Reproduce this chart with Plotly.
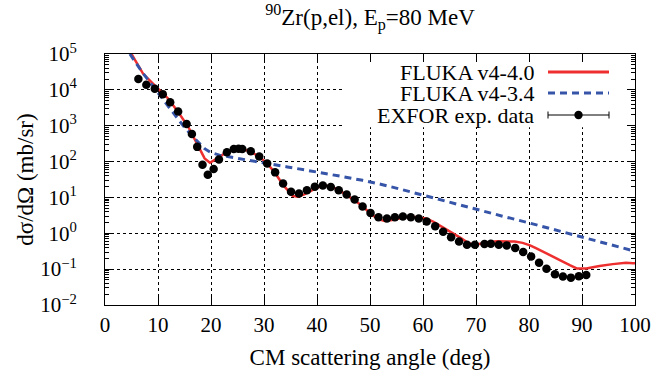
import plotly.graph_objects as go

# ---- data ----
exp_angle = [6.3, 7.8, 9.4, 10.9, 12.3, 13.8, 15.4, 16.4, 17.4, 18.4, 19.4, 20.5, 21.5, 23.0,
             24.3, 25.2, 25.9, 27.5, 29.1, 30.6, 32.1, 33.6, 35.1, 36.6, 38.1, 39.6, 41.1,
             42.6, 44.1, 45.6, 47.1, 48.6, 50.1, 51.6, 53.2, 54.7, 56.2, 57.7, 59.2, 60.7,
             62.3, 63.8, 65.3, 66.8, 68.3, 69.8, 71.6, 72.8, 74.3, 75.8, 77.4, 78.9, 80.4,
             81.9, 83.3, 84.9, 86.4, 87.9, 89.4, 90.8]
exp_xs = [2.0e4, 1.38e4, 1.07e4, 7.6e3, 4.5e3, 2.5e3, 1.12e3, 590, 257, 81, 43, 62, 115, 182,
          224, 229, 224, 195, 138, 89, 50, 24.5, 14.5, 12.9, 15.8, 20, 21.4,
          19.5, 15.8, 12.0, 8.7, 5.6, 3.7, 2.8, 2.6, 2.8, 2.95, 2.8, 2.57, 2.14,
          1.58, 1.10, 0.78, 0.59, 0.48, 0.48, 0.50, 0.51, 0.48, 0.46, 0.39, 0.30, 0.224,
          0.151, 0.102, 0.072, 0.062, 0.058, 0.063, 0.069]

v440_angle = [5.0, 7.2, 9.7, 11.9, 13.8, 15.7, 17.5, 18.8, 19.8, 20.7, 21.6, 23.0, 25.0, 27.0,
              29.0, 30.6, 32.1, 33.6, 35.4, 36.3, 37.5, 38.6, 40.0, 41.1, 42.6, 44.2, 45.6,
              47.1, 48.7, 50.1, 51.5, 52.8, 54.5, 56.2, 58.0, 59.5, 60.6, 62.0, 63.2, 64.5,
              65.7, 67.0, 68.2, 69.2, 70.1, 71.3, 72.6, 74.0, 75.7, 77.3, 78.8, 80.2, 81.4,
              83.0, 84.5, 86.0, 87.7, 89.0, 90.8, 92.0, 93.3, 95.8, 98.3, 99.6, 100.0]
v440_xs = [1.0e5, 2.8e4, 1.2e4, 5.75e3, 2.4e3, 933, 288, 123, 93, 110, 135, 186, 224, 204,
           141, 89, 48, 22.4, 11.0, 10.5, 12.0, 14.5, 18.6, 21.4, 20.4, 15.8, 11.7,
           8.3, 5.5, 3.55, 2.5, 2.19, 2.4, 2.75, 2.88, 2.75, 2.57, 2.09, 1.66, 1.26,
           1.0, 0.76, 0.575, 0.50, 0.49, 0.54, 0.575, 0.60, 0.60, 0.59, 0.54, 0.46, 0.38,
           0.295, 0.23, 0.174, 0.129, 0.105, 0.105, 0.115, 0.123, 0.138, 0.151, 0.145, 0.145]

v434_angle = [4.7, 6.9, 8.8, 10.6, 12.5, 14.7, 16.8, 18.8, 20.0, 21.6, 25.0, 27.9, 31.0, 34.4,
              38.0, 41.0, 44.0, 48.6, 52.0, 56.0, 60.0, 65.0, 70.1, 75.0, 80.0, 85.0, 89.9,
              95.0, 100.0]
v434_xs = [1.0e5, 3.3e4, 1.41e4, 6.3e3, 2.7e3, 1.02e3, 457, 229, 178, 151, 123, 105, 87, 71,
           57.5, 49, 40, 30, 23.4, 16.6, 11.5, 7.4, 4.7, 3.0, 1.95, 1.23, 0.78,
           0.50, 0.316]

x_ticks = [0, 10, 20, 30, 40, 50, 60, 70, 80, 90, 100]
y_ticks = [1e-2, 1e-1, 1e0, 1e1, 1e2, 1e3, 1e4, 1e5]
y_ticktext = ["10<sup>−2</sup>", "10<sup>−1</sup>", "10<sup>0</sup>", "10<sup>1</sup>",
              "10<sup>2</sup>", "10<sup>3</sup>", "10<sup>4</sup>", "10<sup>5</sup>"]
y_minor_ticks = [m * d for d in y_ticks[:-1] for m in range(2, 10)]
legend_labels = ["FLUKA v4-4.0", "FLUKA v4-3.4", "EXFOR exp. data"]

RED = "#ee2f2f"
BLUE = "#3655a8"
FONT = "'Liberation Serif', 'DejaVu Serif', serif"
FS = 21
FS_TEXT = 23
FS_LEG = 22

fig = go.Figure()
fig.add_trace(go.Scatter(x=v440_angle, y=v440_xs, mode="lines",
                         line=dict(color=RED, width=2.5), name=legend_labels[0]))
fig.add_trace(go.Scatter(x=v434_angle, y=v434_xs, mode="lines",
                         line=dict(color=BLUE, width=3, dash="7px,5px"), name=legend_labels[1]))
fig.add_trace(go.Scatter(x=exp_angle, y=exp_xs, mode="markers",
                         marker=dict(color="black", size=8.5), name=legend_labels[2]))
# empty trace that carries the minor-tick axis
fig.add_trace(go.Scatter(x=[], y=[], yaxis="y2", showlegend=False, hoverinfo="skip"))

axis_common = dict(showline=True, linecolor="black", linewidth=1, mirror="ticks",
                   ticks="inside", tickcolor="black", ticklen=8, tickwidth=1,
                   showgrid=True, gridcolor="black", gridwidth=1, griddash="dot",
                   zeroline=False, automargin=False,
                   tickfont=dict(family=FONT, size=FS, color="black"))

fig.update_layout(
    xaxis=dict(range=[0, 100], tickvals=x_ticks, ticklabelstandoff=1,
               title=dict(text="CM scattering angle (deg)", standoff=12,
                          font=dict(family=FONT, size=FS_TEXT, color="black")),
               **axis_common),
    yaxis=dict(type="log", range=[-2, 5], tickvals=y_ticks, ticktext=y_ticktext,
               ticklabelstandoff=23,
               title=dict(text="dσ/dΩ (mb/sr)", standoff=0,
                          font=dict(family=FONT, size=FS_TEXT, color="black")),
               **axis_common),
    yaxis2=dict(type="log", range=[-2, 5], overlaying="y", side="left", anchor="x",
                tickvals=y_minor_ticks, ticks="inside", ticklen=4, tickcolor="black",
                showticklabels=False, showgrid=False, zeroline=False, showline=False,
                mirror="ticks", automargin=False),
)

# ---- custom legend (text on the left, sample on the right) ----
px_w, px_h = 530, 251
def px(xp):
    return (xp - 105) / px_w
def py(yp):
    return (305 - yp) / px_h

# white legend background, between the grid and the traces (data coordinates)
shapes = [dict(type="rect", xref="x", yref="y", x0=45.0, x1=98.9, y0=900, y1=1.0e5,
               fillcolor="white", line=dict(width=0), layer="between")]
rows = [72, 93, 115]
for lab, yy in zip(legend_labels, rows):
    fig.add_annotation(text=lab, xref="paper", yref="paper", x=px(536), y=py(yy),
                       xanchor="right", yanchor="middle", showarrow=False,
                       font=dict(family=FONT, size=FS_LEG, color="black"))
shapes.append(dict(type="line", xref="paper", yref="paper", x0=px(548), x1=px(609),
                   y0=py(rows[0]), y1=py(rows[0]), line=dict(color=RED, width=3), layer="above"))
shapes.append(dict(type="line", xref="paper", yref="paper", x0=px(548), x1=px(609),
                   y0=py(rows[1]), y1=py(rows[1]),
                   line=dict(color=BLUE, width=3, dash="7px,5px"), layer="above"))
shapes.append(dict(type="line", xref="paper", yref="paper", x0=px(548), x1=px(609),
                   y0=py(rows[2]), y1=py(rows[2]), line=dict(color="black", width=1), layer="above"))
for xe in (548, 609):
    shapes.append(dict(type="line", xref="paper", yref="paper", x0=px(xe), x1=px(xe),
                       y0=py(rows[2] - 3.5), y1=py(rows[2] + 3.5),
                       line=dict(color="black", width=1), layer="above"))
shapes.append(dict(type="circle", xref="paper", yref="paper", xsizemode="pixel", ysizemode="pixel",
                   xanchor=px(578.5), yanchor=py(rows[2]), x0=-4.2, x1=4.2, y0=-4.2, y1=4.2,
                   fillcolor="black", line=dict(color="black", width=0), layer="above"))

fig.update_layout(
    width=654, height=370,
    margin=dict(l=105, r=19, t=54, b=65, autoexpand=False),
    paper_bgcolor="white", plot_bgcolor="white",
    showlegend=False,
    shapes=shapes,
    font=dict(family=FONT, size=FS, color="black"),
    title=dict(text="<sup>90</sup>Zr(p,el), E<sub>p</sub>=80 MeV", xref="paper", x=0.5,
               xanchor="center", yref="container", y=1 - 17 / 370, yanchor="middle",
               font=dict(family=FONT, size=FS_TEXT, color="black")),
)

fig.write_html("out.html", config={"displayModeBar": False},
               post_script="document.body.style.margin='0';document.body.style.padding='0';")
